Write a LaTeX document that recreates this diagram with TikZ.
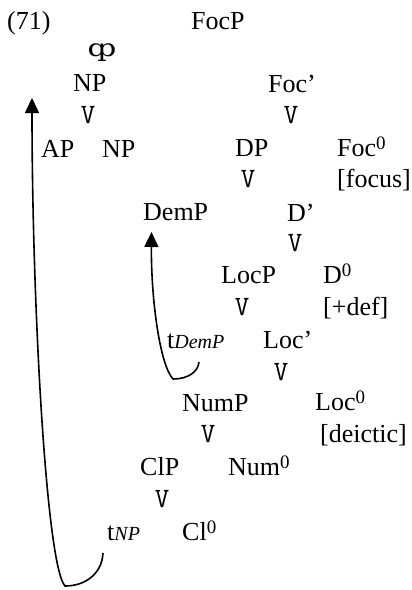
\documentclass[tikz,border=0pt]{standalone}
\usepackage{fontspec}
\setmainfont{Liberation Serif}
\newfontfamily\qpfont{DejaVu Serif}
\usetikzlibrary{arrows.meta}
\newcommand\trc[1]{t{\fontsize{20}{24}\selectfont\itshape #1}}
\newcommand\zsup{\raisebox{7pt}{\fontsize{19}{20}\selectfont 0}}
\begin{document}
\begin{tikzpicture}[x=1pt,y=-1pt,
  lab/.style={anchor=base west,inner sep=0pt,font=\fontsize{26}{30}\selectfont},
  vmark/.style={anchor=base,inner sep=0pt,font=\ttfamily\fontsize{28}{30}\selectfont},
  move/.style={line width=1.6pt,-{Triangle[length=15pt,width=14pt]}}]
\useasboundingbox (0,0) rectangle (412,590);
% labels
\node[lab] (ex) at (7,29) {(71)};
\node[lab] (focp) at (191,29) {FocP};
\node[anchor=center,inner sep=0pt,font=\qpfont\fontsize{30}{32}\selectfont] (qp) at (102,53) {\scalebox{1}[0.8]{ȹ}};
\node[lab] (np1) at (73,91) {NP};
\node[vmark] (v1) at (88,123) {V};
\node[lab] (ap) at (41,157) {AP};
\node[lab] (np2) at (102,157) {NP};
\node[lab] (focbar) at (268,92) {Foc’};
\node[vmark] (v2) at (291,123) {V};
\node[lab] (dp) at (235,156) {DP};
\node[lab] (foc0) at (337,156) {Foc\zsup};
\node[vmark] (v3) at (248,187) {V};
\node[lab] (focus) at (337,187) {[focus]};
\node[lab] (demp) at (143,220) {DemP};
\node[lab] (dbar) at (287,221) {D’};
\node[vmark] (v4) at (295,251) {V};
\node[lab] (locp) at (221,283) {LocP};
\node[lab] (d0) at (323,283) {D\zsup};
\node[vmark] (v5) at (242,315) {V};
\node[lab] (def) at (323,315) {[+def]};
\node[lab] (tdemp) at (167,348) {\trc{DemP}};
\node[lab] (locbar) at (263,348) {Loc’};
\node[vmark] (v6) at (281,380) {V};
\node[lab] (nump) at (182,411) {NumP};
\node[lab] (loc0) at (315,410) {Loc\zsup};
\node[vmark] (v7) at (208,442) {V};
\node[lab] (deictic) at (320,442) {[deictic]};
\node[lab] (clp) at (140,475) {ClP};
\node[lab] (num0) at (228,475) {Num\zsup};
\node[vmark] (v8) at (162,507) {V};
\node[lab] (tnp) at (107,540) {\trc{NP}};
\node[lab] (cl0) at (182,540) {Cl\zsup};
% movement arrows
\coordinate (s1) at ([shift={(32,14)}]tdemp.base west);
\coordinate (b1) at (173,379);
\coordinate (t1) at ([shift={(8.5,12)}]demp.base west);
\draw[move] (s1) .. controls (198,372) and (188,379) .. (b1)
  .. controls (160,365) and (151,300) .. (t1);
\coordinate (s2) at ([shift={(-4,13)}]tnp.base west);
\coordinate (b2) at (65,586);
\coordinate (t2) at ([shift={(-41,7)}]np1.base west);
\draw[move] (s2) .. controls (102,574) and (85,586) .. (b2)
  .. controls (46,565) and (32,300) .. (t2);
\end{tikzpicture}
\end{document}
